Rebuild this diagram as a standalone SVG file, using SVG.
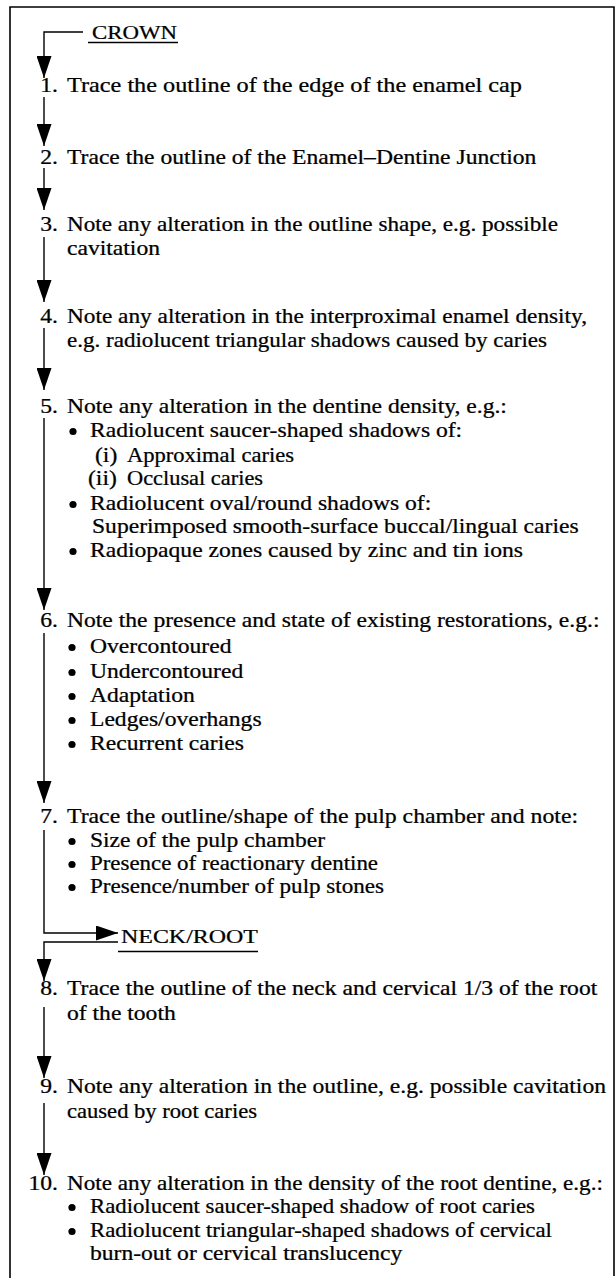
<svg xmlns="http://www.w3.org/2000/svg" width="616" height="1278" viewBox="0 0 616 1278">
<style>
.t{font-family:"Liberation Serif","Times New Roman",serif;font-size:20px;fill:#000;stroke:#000;stroke-width:0.25}
.h{font-family:"Liberation Serif","Times New Roman",serif;font-size:19.5px;fill:#000;stroke:#000;stroke-width:0.25}
.n{text-anchor:end}
.ln{fill:none;stroke:#000;stroke-width:1.4}
.fr{fill:none;stroke:#000;stroke-width:1.6}
.b{fill:#000}
</style>
<defs>
<marker id="ah" markerUnits="userSpaceOnUse" markerWidth="22" markerHeight="15" viewBox="0 0 22 15" refX="22" refY="7.5" orient="auto">
<path d="M0,0 L22,7.5 L0,15 Z" fill="#000"/>
</marker>
</defs>
<rect width="616" height="1278" fill="#fff"/>
<path class="fr" d="M10,1278 V7 H614 V1276"/>
<g id="connectors">
<path class="ln" d="M83,32 H44 V78" marker-end="url(#ah)"/>
<path class="ln" d="M44,97 V146" marker-end="url(#ah)"/>
<path class="ln" d="M44,168 V210" marker-end="url(#ah)"/>
<path class="ln" d="M44,237 V302" marker-end="url(#ah)"/>
<path class="ln" d="M44,328 V390" marker-end="url(#ah)"/>
<path class="ln" d="M44,418 V610" marker-end="url(#ah)"/>
<path class="ln" d="M44,633 V803" marker-end="url(#ah)"/>
<path class="ln" d="M44,830 V933 H118" marker-end="url(#ah)"/>
<path class="ln" d="M118,942 H44 V981" marker-end="url(#ah)"/>
<path class="ln" d="M44,1007 V1078" marker-end="url(#ah)"/>
<path class="ln" d="M44,1103 V1175" marker-end="url(#ah)"/>
</g>
<g id="crown">
<g transform="scale(1.18 1)"><text class="h" x="77.97" y="39" textLength="72" lengthAdjust="spacingAndGlyphs">CROWN</text></g>
<line class="ln" x1="88" y1="42.5" x2="178" y2="42.5"/>
</g>
<g id="step1"><g transform="scale(1.18 1)">
<text class="t n" x="49.15" y="92">1.</text>
<text class="t" x="56.78" y="92" textLength="385.6" lengthAdjust="spacingAndGlyphs">Trace the outline of the edge of the enamel cap</text>
</g></g>
<g id="step2"><g transform="scale(1.18 1)">
<text class="t n" x="49.15" y="164">2.</text>
<text class="t" x="56.78" y="164">Trace the outline of the Enamel–Dentine Junction</text>
</g></g>
<g id="step3"><g transform="scale(1.18 1)">
<text class="t n" x="49.15" y="231">3.</text>
<text class="t" x="56.78" y="231" textLength="416.1" lengthAdjust="spacingAndGlyphs">Note any alteration in the outline shape, e.g. possible</text>
<text class="t" x="56.78" y="255">cavitation</text>
</g></g>
<g id="step4"><g transform="scale(1.18 1)">
<text class="t n" x="49.15" y="323">4.</text>
<text class="t" x="56.78" y="323" textLength="440.7" lengthAdjust="spacingAndGlyphs">Note any alteration in the interproximal enamel density,</text>
<text class="t" x="56.78" y="347" textLength="406.8" lengthAdjust="spacingAndGlyphs">e.g. radiolucent triangular shadows caused by caries</text>
</g></g>
<g id="step5">
<g transform="scale(1.18 1)">
<text class="t n" x="49.15" y="413">5.</text>
<text class="t" x="56.78" y="413">Note any alteration in the dentine density, e.g.:</text>
<text class="t" x="76.27" y="437">Radiolucent saucer-shaped shadows of:</text>
<text class="t" x="80.51" y="462">(i)</text>
<text class="t" x="107.63" y="462" textLength="141.5" lengthAdjust="spacingAndGlyphs">Approximal caries</text>
<text class="t" x="74.58" y="485">(ii)</text>
<text class="t" x="107.63" y="485" textLength="115.3" lengthAdjust="spacingAndGlyphs">Occlusal caries</text>
<text class="t" x="76.27" y="510">Radiolucent oval/round shadows of:</text>
<text class="t" x="77.97" y="533">Superimposed smooth-surface buccal/lingual caries</text>
<text class="t" x="76.27" y="557">Radiopaque zones caused by zinc and tin ions</text>
</g>
<circle class="b" cx="73" cy="431.5" r="3.6"/>
<circle class="b" cx="73" cy="504.5" r="3.6"/>
<circle class="b" cx="73" cy="551.5" r="3.6"/>
</g>
<g id="step6">
<g transform="scale(1.18 1)">
<text class="t n" x="49.15" y="627">6.</text>
<text class="t" x="56.78" y="627">Note the presence and state of existing restorations, e.g.:</text>
<text class="t" x="76.27" y="653">Overcontoured</text>
<text class="t" x="76.27" y="678">Undercontoured</text>
<text class="t" x="76.27" y="702">Adaptation</text>
<text class="t" x="76.27" y="726">Ledges/overhangs</text>
<text class="t" x="76.27" y="750">Recurrent caries</text>
</g>
<circle class="b" cx="72" cy="647.5" r="3.6"/>
<circle class="b" cx="72" cy="672.5" r="3.6"/>
<circle class="b" cx="72" cy="696.5" r="3.6"/>
<circle class="b" cx="72" cy="720.5" r="3.6"/>
<circle class="b" cx="72" cy="744.5" r="3.6"/>
</g>
<g id="step7">
<g transform="scale(1.18 1)">
<text class="t n" x="49.15" y="823">7.</text>
<text class="t" x="56.78" y="823" textLength="433.1" lengthAdjust="spacingAndGlyphs">Trace the outline/shape of the pulp chamber and note:</text>
<text class="t" x="76.27" y="847" textLength="199.2" lengthAdjust="spacingAndGlyphs">Size of the pulp chamber</text>
<text class="t" x="76.27" y="870" textLength="244.1" lengthAdjust="spacingAndGlyphs">Presence of reactionary dentine</text>
<text class="t" x="76.27" y="893" textLength="249.2" lengthAdjust="spacingAndGlyphs">Presence/number of pulp stones</text>
</g>
<circle class="b" cx="72" cy="841.5" r="3.6"/>
<circle class="b" cx="72" cy="864.5" r="3.6"/>
<circle class="b" cx="72" cy="887.5" r="3.6"/>
</g>
<g id="neckroot">
<g transform="scale(1.18 1)"><text class="h" x="102.54" y="943" textLength="116.1" lengthAdjust="spacingAndGlyphs">NECK/ROOT</text></g>
<line class="ln" x1="118" y1="951.5" x2="258" y2="951.5"/>
</g>
<g id="step8"><g transform="scale(1.18 1)">
<text class="t n" x="49.15" y="995">8.</text>
<text class="t" x="56.78" y="995">Trace the outline of the neck and cervical 1/3 of the root</text>
<text class="t" x="56.78" y="1020">of the tooth</text>
</g></g>
<g id="step9"><g transform="scale(1.18 1)">
<text class="t n" x="49.15" y="1093">9.</text>
<text class="t" x="56.78" y="1093">Note any alteration in the outline, e.g. possible cavitation</text>
<text class="t" x="56.78" y="1118" textLength="161" lengthAdjust="spacingAndGlyphs">caused by root caries</text>
</g></g>
<g id="step10">
<g transform="scale(1.18 1)">
<text class="t n" x="49.15" y="1190">10.</text>
<text class="t" x="56.78" y="1190" textLength="454.2" lengthAdjust="spacingAndGlyphs">Note any alteration in the density of the root dentine, e.g.:</text>
<text class="t" x="76.27" y="1213" textLength="377.1" lengthAdjust="spacingAndGlyphs">Radiolucent saucer-shaped shadow of root caries</text>
<text class="t" x="76.27" y="1237" textLength="391.5" lengthAdjust="spacingAndGlyphs">Radiolucent triangular-shaped shadows of cervical</text>
<text class="t" x="76.27" y="1260">burn-out or cervical translucency</text>
</g>
<circle class="b" cx="72" cy="1207.5" r="3.6"/>
<circle class="b" cx="72" cy="1231.5" r="3.6"/>
</g>
</svg>
